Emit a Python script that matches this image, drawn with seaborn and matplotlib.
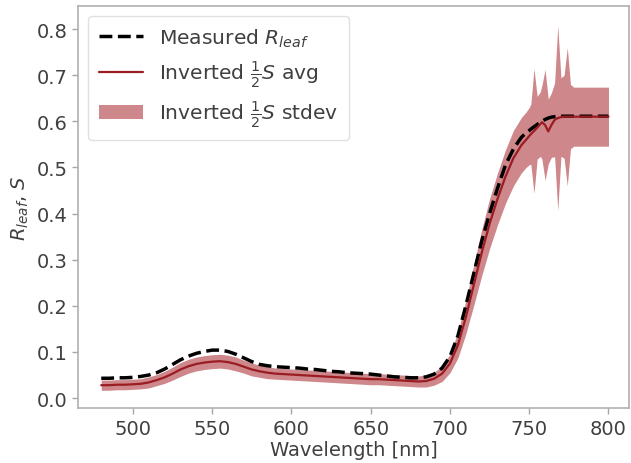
import numpy as np
import pandas as pd
import matplotlib
matplotlib.use('Agg')
import matplotlib.pyplot as plt
import seaborn as sns

# wavelength grid (nm), finer where the stdev band is spiky
wavelength = [480, 485, 490, 495, 500, 505, 510, 515, 520, 525, 530, 535, 540, 545,
              550, 555, 560, 565, 570, 575, 580, 585, 590, 595, 600, 605, 610, 615,
              620, 625, 630, 635, 640, 645, 650, 655, 660, 665, 670, 675, 680, 685,
              690, 695, 700, 705, 710, 715, 720, 725, 730, 735, 740, 745,
              748, 750, 751, 753, 755, 757, 758, 760, 762, 764, 766, 768, 770, 772,
              774, 776, 778, 780, 785, 790, 795, 800]

measured = [0.043, 0.043, 0.044, 0.044, 0.045, 0.047, 0.050, 0.055, 0.063, 0.073, 0.083, 0.091, 0.097, 0.101,
            0.104, 0.104, 0.101, 0.095, 0.087, 0.079, 0.073, 0.070, 0.068, 0.067, 0.066, 0.065, 0.063, 0.062,
            0.060, 0.058, 0.057, 0.055, 0.054, 0.053, 0.052, 0.050, 0.048, 0.046, 0.045, 0.044, 0.044, 0.046,
            0.052, 0.065, 0.090, 0.135, 0.200, 0.270, 0.340, 0.400, 0.455, 0.505, 0.540, 0.565,
            0.575, 0.580, 0.583, 0.588, 0.593, 0.598, 0.600, 0.604, 0.607, 0.609, 0.610, 0.611, 0.611, 0.611,
            0.611, 0.611, 0.611, 0.611, 0.611, 0.611, 0.611, 0.611]

inv_avg = [0.028, 0.028, 0.029, 0.029, 0.030, 0.031, 0.034, 0.039, 0.045, 0.053, 0.062, 0.069, 0.074, 0.077,
           0.079, 0.080, 0.078, 0.074, 0.068, 0.062, 0.058, 0.055, 0.053, 0.052, 0.051, 0.050, 0.049, 0.048,
           0.047, 0.046, 0.045, 0.044, 0.043, 0.042, 0.041, 0.041, 0.040, 0.039, 0.038, 0.037, 0.036, 0.037,
           0.042, 0.053, 0.075, 0.115, 0.175, 0.245, 0.315, 0.378, 0.432, 0.480, 0.520, 0.548,
           0.560, 0.568, 0.572, 0.579, 0.586, 0.594, 0.598, 0.592, 0.578, 0.592, 0.603, 0.607, 0.609, 0.610,
           0.610, 0.610, 0.610, 0.610, 0.610, 0.610, 0.610, 0.610]

inv_std = [0.011, 0.011, 0.011, 0.011, 0.011, 0.011, 0.012, 0.012, 0.013, 0.014, 0.015, 0.015, 0.015, 0.015,
           0.015, 0.015, 0.015, 0.015, 0.014, 0.014, 0.013, 0.013, 0.012, 0.012, 0.012, 0.012, 0.012, 0.012,
           0.012, 0.012, 0.012, 0.012, 0.012, 0.012, 0.012, 0.012, 0.012, 0.012, 0.012, 0.012, 0.012, 0.013,
           0.014, 0.017, 0.020, 0.028, 0.036, 0.044, 0.050, 0.054, 0.056, 0.058, 0.060, 0.060,
           0.060, 0.062, 0.065, 0.135, 0.068, 0.070, 0.080, 0.120, 0.070, 0.070, 0.080, 0.200, 0.085, 0.090,
           0.150, 0.070, 0.064, 0.064, 0.064, 0.064, 0.064, 0.064]

df = pd.DataFrame({"wl": wavelength, "measured": measured, "avg": inv_avg, "std": inv_std})

sns.set_theme(style="ticks")
plt.rcParams['font.family'] = ['DejaVu Sans']
plt.rcParams['axes.edgecolor'] = '0.7'
plt.rcParams['xtick.color'] = '0.65'
plt.rcParams['ytick.color'] = '0.65'
plt.rcParams['xtick.labelcolor'] = '0.25'
plt.rcParams['ytick.labelcolor'] = '0.25'
plt.rcParams['axes.labelcolor'] = '0.25'
plt.rcParams['text.color'] = '0.25'

fig = plt.figure(figsize=(6.31, 4.64), dpi=100)
ax = fig.add_axes([0.124, 0.118, 0.873, 0.867])

band_color = '#b5474b'
line_color = '#9b1c22'

ax.fill_between(df["wl"], df["avg"] - df["std"], df["avg"] + df["std"],
                color=band_color, alpha=0.65, linewidth=0,
                label=r"Inverted $\frac{1}{2}S$ stdev")
sns.lineplot(data=df, x="wl", y="measured", ax=ax, color='black',
             linestyle='--', linewidth=2.5, label=r"Measured $R_{leaf}$")
sns.lineplot(data=df, x="wl", y="avg", ax=ax, color=line_color,
             linewidth=1.6, label=r"Inverted $\frac{1}{2}S$ avg")

handles, labels = ax.get_legend_handles_labels()
order = [1, 2, 0]
ax.legend([handles[i] for i in order], [labels[i] for i in order],
          loc='upper left', fontsize=14.6, frameon=True, edgecolor='0.85',
          fancybox=True, handlelength=2.2, borderpad=0.5)

ax.set_xlim(465.5, 813)
ax.set_ylim(-0.022, 0.85)
ax.set_xticks([500, 550, 600, 650, 700, 750, 800])
ax.set_yticks([0.0, 0.1, 0.2, 0.3, 0.4, 0.5, 0.6, 0.7, 0.8])
ax.tick_params(labelsize=14, length=4, width=1)
ax.set_xlabel("Wavelength [nm]", fontsize=14, labelpad=2)
ax.set_ylabel(r"$R_{leaf}$, $S$", fontsize=14)
for s in ax.spines.values():
    s.set_visible(True)

fig.savefig("out.png", dpi=100)
